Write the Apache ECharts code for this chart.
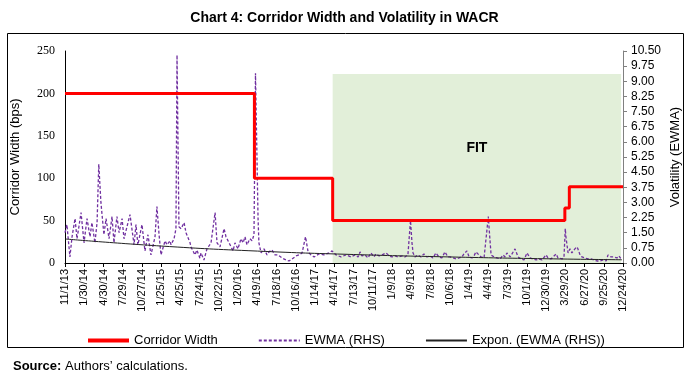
<!DOCTYPE html>
<html>
<head>
<meta charset="utf-8">
<script src="https://cdn.jsdelivr.net/npm/echarts@6/dist/echarts.min.js"></script>
<style>
  html, body { margin: 0; padding: 0; background: #fff; }
  #chart { width: 689px; height: 377px; }
</style>
</head>
<body>
<div id="chart"></div>
<script>
// days are counted from 11/1/13
const startDate = Date.UTC(2013, 10, 1);
const axisEndDay = 2610; // 12/24/20

// corridor width (bps), steps
const corridorDates = ['2013-11-01', '2016-04-05', '2017-04-06', '2020-03-27', '2020-04-17', '2020-12-24'];
const corridorValues = [200, 100, 50, 65, 90, 90];

// FIT regime shading
const fitStart = '2017-04-06';
const fitEndDay = 2601;
const fitTop = 223;

// EWMA volatility (RHS)
const ewmaDays = [
  0, 9, 23, 33, 47, 56, 65, 75, 89, 103, 117, 126, 140, 150, 158, 168, 182, 192, 206, 220,
  229, 243, 253, 267, 276, 290, 304, 323, 332, 341, 360, 374, 388, 402, 421, 430, 440, 449, 468, 477,
  491, 496, 510, 519, 524, 533, 543, 557, 566, 585, 589, 608, 617, 631, 636, 650, 664, 683, 702, 711,
  725, 744, 753, 772, 786, 795, 809, 823, 833, 842, 851, 865, 875, 884, 891, 903, 907, 917, 931, 945,
  954, 968, 982, 996, 1015, 1034, 1048, 1062, 1081, 1095, 1109, 1125, 1137, 1151, 1165, 1188, 1211, 1235, 1249, 1268,
  1291, 1314, 1338, 1357, 1371, 1380, 1389, 1403, 1417, 1431, 1445, 1455, 1469, 1483, 1502, 1516, 1530, 1544, 1558, 1576,
  1590, 1604, 1616, 1623, 1628, 1637, 1651, 1665, 1679, 1693, 1707, 1721, 1735, 1749, 1763, 1777, 1791, 1801, 1815, 1829,
  1843, 1857, 1866, 1880, 1890, 1904, 1913, 1922, 1936, 1946, 1960, 1969, 1980, 1988, 1993, 2007, 2021, 2035, 2049, 2058,
  2067, 2082, 2091, 2105, 2119, 2133, 2147, 2161, 2175, 2189, 2203, 2217, 2231, 2250, 2259, 2273, 2283, 2297, 2306, 2315,
  2325, 2334, 2340, 2343, 2348, 2353, 2362, 2371, 2376, 2385, 2395, 2399, 2409, 2418, 2432, 2446, 2460, 2474, 2488, 2502,
  2517, 2531, 2540, 2554, 2568, 2582, 2591, 2601, 2605
];
const ewmaValues = [
  1.5, 1.9, 0.3, 1.3, 2.2, 1.2, 1.8, 2.5, 1.0, 2.2, 1.3, 2.0, 1.0, 2.0, 4.9, 3.0, 1.4, 2.2, 1.2, 2.3,
  1.0, 2.3, 1.5, 2.2, 1.2, 1.8, 2.4, 0.9, 1.9, 0.9, 1.9, 0.6, 1.4, 0.4, 1.3, 2.8, 1.4, 0.4, 1.1, 0.9,
  1.1, 0.9, 1.2, 1.7, 10.3, 1.8, 1.7, 2.0, 1.5, 1.0, 0.8, 0.4, 0.64, 0.24, 0.5, 0.15, 0.7, 1.0, 2.5, 1.0,
  0.8, 1.7, 1.3, 0.9, 0.6, 1.0, 0.7, 1.2, 1.0, 1.3, 0.9, 1.2, 1.1, 1.4, 9.4, 2.2, 1.0, 0.5, 0.7, 0.4,
  0.55, 0.65, 0.4, 0.4, 0.25, 0.15, 0.1, 0.2, 0.35, 0.4, 0.5, 1.3, 0.55, 0.4, 0.3, 0.45, 0.4, 0.5, 0.6, 0.4,
  0.3, 0.4, 0.3, 0.4, 0.3, 0.55, 0.35, 0.4, 0.25, 0.5, 0.3, 0.45, 0.35, 0.4, 0.5, 0.35, 0.3, 0.35, 0.3, 0.35,
  0.3, 0.4, 2.1, 1.0, 0.5, 0.3, 0.4, 0.3, 0.45, 0.3, 0.35, 0.25, 0.5, 0.3, 0.25, 0.55, 0.3, 0.3, 0.25, 0.2,
  0.25, 0.3, 0.45, 0.6, 0.3, 0.25, 0.35, 0.55, 0.4, 0.3, 0.25, 0.2, 2.3, 1.1, 0.4, 0.3, 0.25, 0.2, 0.4, 0.3,
  0.5, 0.3, 0.35, 0.7, 0.3, 0.2, 0.15, 0.5, 0.25, 0.2, 0.15, 0.2, 0.15, 0.4, 0.25, 0.2, 0.3, 0.45, 0.25, 0.3,
  0.2, 0.3, 1.7, 1.3, 0.9, 0.5, 0.7, 0.5, 0.45, 0.7, 0.8, 0.7, 0.4, 0.3, 0.25, 0.2, 0.2, 0.15, 0.1, 0.1,
  0.15, 0.1, 0.4, 0.3, 0.3, 0.25, 0.35, 0.2, 0.15
];

// exponential trend of EWMA
const trendDays = [0, 450, 900, 1350, 1800, 2250, 2605];
const trendValues = [1.19, 0.84, 0.59, 0.42, 0.30, 0.21, 0.16];

function dayOf(s) {
  return Math.round((Date.parse(s) - startDate) / 86400000);
}

function fmtDay(v) {
  const d = new Date(startDate + v * 86400000);
  return (d.getUTCMonth() + 1) + '/' + d.getUTCDate() + '/' + String(d.getUTCFullYear()).slice(2);
}

const corridorData = corridorDates.map((d, i) => [dayOf(d), corridorValues[i]]);
const ewmaData = ewmaDays.map((d, i) => [d, ewmaValues[i]]);
const trendData = trendDays.map((d, i) => [d, trendValues[i]]);

const chart = echarts.init(document.getElementById('chart'), null, { renderer: 'canvas' });

const option = {
  backgroundColor: '#fff',
  animation: false,
  textStyle: { fontFamily: 'Liberation Sans, Arial, sans-serif', color: '#000' },
  title: [
    {
      text: 'Chart 4: Corridor Width and Volatility in WACR',
      left: 'center',
      top: 6,
      textStyle: { fontSize: 14, fontWeight: 'bold', color: '#000', fontFamily: 'Liberation Sans, Arial' }
    },
    {
      text: '{b|Source:} Authors\u2019 calculations.',
      left: 8,
      top: 355,
      textStyle: {
        fontSize: 13, fontWeight: 'normal', color: '#000',
        rich: { b: { fontSize: 13, fontWeight: 'bold', color: '#000' } }
      }
    }
  ],
  graphic: [
    {
      type: 'rect',
      shape: { x: 7.5, y: 33.5, width: 676, height: 314 },
      style: { fill: 'none', stroke: '#000', lineWidth: 1 },
      silent: true
    }
  ],
  legend: {
    left: 81,
    top: 329,
    itemWidth: 41,
    itemHeight: 14,
    itemGap: 40,
    itemStyle: { opacity: 0 },
    textStyle: { fontSize: 13, color: '#000' },
    data: [
      { name: 'Corridor Width', lineStyle: { width: 4 } },
      'EWMA (RHS)',
      'Expon. (EWMA (RHS))'
    ]
  },
  grid: { left: 65, right: 66, top: 51, bottom: 114, containLabel: false, outerBoundsMode: 'none' },
  xAxis: {
    type: 'value',
    min: 0,
    max: axisEndDay,
    interval: 90,
    axisLine: { lineStyle: { color: '#000', width: 1 } },
    axisTick: { show: true, length: 4, lineStyle: { color: '#000' } },
    splitLine: { show: false },
    axisLabel: {
      rotate: 90,
      fontSize: 11,
      color: '#000',
      margin: 6,
      formatter: fmtDay
    }
  },
  yAxis: [
    {
      type: 'value',
      min: 0,
      max: 250,
      interval: 50,
      name: 'Corridor Width (bps)',
      nameLocation: 'middle',
      nameRotate: 90,
      nameGap: 43,
      nameTextStyle: { fontSize: 13, color: '#000' },
      axisLine: { show: true, lineStyle: { color: '#000' } },
      axisTick: { show: false },
      splitLine: { show: false },
      axisLabel: { fontFamily: 'Liberation Serif, Times New Roman, serif', fontSize: 12, color: '#000', margin: 10 }
    },
    {
      type: 'value',
      min: 0,
      max: 10.5,
      interval: 0.75,
      position: 'right',
      name: 'Volatility (EWMA)',
      nameLocation: 'middle',
      nameRotate: 90,
      nameGap: 46,
      nameMoveOverlap: false,
      nameTextStyle: { fontSize: 13, color: '#000' },
      axisLine: { show: true, lineStyle: { color: '#808080' } },
      axisTick: { show: true, length: 4, lineStyle: { color: '#808080' } },
      splitLine: { show: false },
      axisLabel: { fontSize: 12, color: '#000', margin: 8, formatter: v => v.toFixed(2) }
    }
  ],
  series: [
    {
      name: 'EWMA (RHS)',
      type: 'line',
      yAxisIndex: 1,
      symbol: 'none',
      data: ewmaData,
      lineStyle: { color: '#7030a0', width: 1.3, type: [3, 2] },
      itemStyle: { color: '#7030a0' },
      z: 3
    },
    {
      name: 'Expon. (EWMA (RHS))',
      type: 'line',
      yAxisIndex: 1,
      symbol: 'none',
      smooth: true,
      data: trendData,
      lineStyle: { color: '#222', width: 1 },
      itemStyle: { color: '#222' },
      z: 4
    },
    {
      name: 'Corridor Width',
      type: 'line',
      yAxisIndex: 0,
      symbol: 'none',
      step: 'end',
      data: corridorData,
      lineStyle: { color: '#ff0000', width: 3 },
      itemStyle: { color: '#ff0000' },
      z: 5,
      markArea: {
        silent: true,
        z: 1,
        itemStyle: { color: '#e2efd9' },
        label: {
          show: true,
          position: 'inside',
          offset: [0, -20],
          formatter: 'FIT',
          fontSize: 14,
          fontWeight: 'bold',
          color: '#000'
        },
        data: [[
          { xAxis: dayOf(fitStart), yAxis: 0 },
          { xAxis: fitEndDay, yAxis: fitTop }
        ]]
      }
    }
  ]
};

chart.setOption(option);
</script>
</body>
</html>
